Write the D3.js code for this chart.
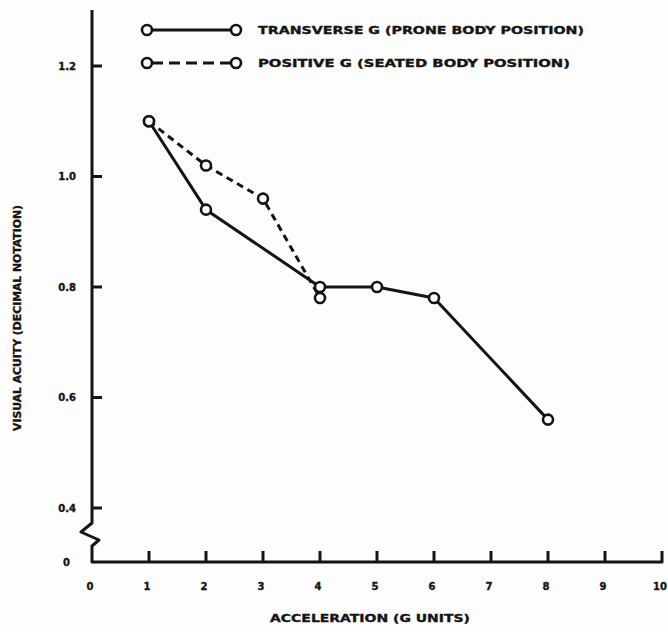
<!DOCTYPE html>
<html>
<head>
<meta charset="utf-8">
<script src="https://cdn.jsdelivr.net/npm/d3@7/dist/d3.min.js"></script>
<style>
  html, body { margin: 0; padding: 0; background: #fdfdfd; }
  svg { display: block; }
  text { font-family: "DejaVu Sans", "Liberation Sans", sans-serif; font-weight: bold; fill: #141414;
         stroke: #141414; stroke-width: 0.35px; }
</style>
</head>
<body>
<script>
// Visual acuity vs acceleration, two body positions
const transverseG = [1, 2, 4, 5, 6, 8];
const transverseAcuity = [1.10, 0.94, 0.80, 0.80, 0.78, 0.56];
const positiveG = [1, 2, 3, 4];
const positiveAcuity = [1.10, 1.02, 0.96, 0.78];
const xTicks = [0, 1, 2, 3, 4, 5, 6, 7, 8, 9, 10];
const yTicks = [0.4, 0.6, 0.8, 1.0, 1.2];
const seriesNames = ["TRANSVERSE G (PRONE BODY POSITION)", "POSITIVE G (SEATED BODY POSITION)"];

const W = 668, H = 632;
const ink = "#141414";
const svg = d3.select("body").append("svg").attr("width", W).attr("height", H);

const x = d3.scaleLinear().domain([0, 10]).range([92, 662]);
const y = d3.scaleLinear().domain([0.4, 1.2]).range([508, 66]);
const baseY = 562;   // zero line, below the axis break
const axisX = x(0);

// Y axis with a break between 0 and 0.4, then the x baseline
const breakPath = d3.path();
breakPath.moveTo(axisX, 10);
breakPath.lineTo(axisX, 523);
breakPath.lineTo(axisX - 11, 532);
breakPath.lineTo(axisX + 7, 540);
breakPath.lineTo(axisX, 546);
breakPath.lineTo(axisX, baseY);
breakPath.lineTo(x(10), baseY);
breakPath.lineTo(x(10), baseY - 11);
svg.append("path").attr("d", breakPath.toString())
  .attr("fill", "none").attr("stroke", ink).attr("stroke-width", 3)
  .attr("stroke-linejoin", "round");

// Y ticks (inward) and labels
const yAxis = svg.append("g");
yAxis.selectAll("line").data(yTicks).join("line")
  .attr("x1", axisX).attr("x2", axisX + 10)
  .attr("y1", d => y(d)).attr("y2", d => y(d))
  .attr("stroke", ink).attr("stroke-width", 3);
yAxis.selectAll("text").data(yTicks).join("text")
  .attr("x", 76).attr("y", d => y(d)).attr("dy", "0.36em")
  .attr("text-anchor", "end").attr("font-size", 10)
  .text(d => d3.format(".1f")(d));
svg.append("text").attr("x", 70).attr("y", baseY).attr("dy", "0.36em")
  .attr("text-anchor", "end").attr("font-size", 10).text("0");

// X ticks (inward) and labels
const xAxis = svg.append("g");
xAxis.selectAll("line").data(xTicks.slice(1, 10)).join("line")
  .attr("x1", d => x(d)).attr("x2", d => x(d))
  .attr("y1", baseY).attr("y2", baseY - 11)
  .attr("stroke", ink).attr("stroke-width", 3);
xAxis.selectAll("text").data(xTicks).join("text")
  .attr("x", d => x(d) - 2).attr("y", 590)
  .attr("text-anchor", "middle").attr("font-size", 10)
  .text(d => d);

// Axis titles
svg.append("text").attr("x", 370).attr("y", 622)
  .attr("text-anchor", "middle").attr("font-size", 11)
  .attr("textLength", 200).attr("lengthAdjust", "spacingAndGlyphs")
  .text("ACCELERATION (G UNITS)");
svg.append("text")
  .attr("transform", "translate(21,318) rotate(-90)")
  .attr("text-anchor", "middle").attr("font-size", 10)
  .attr("textLength", 226).attr("lengthAdjust", "spacingAndGlyphs")
  .text("VISUAL ACUITY (DECIMAL NOTATION)");

// Series lines
const line = d3.line().x(d => x(d[0])).y(d => y(d[1]));
const transPts = transverseG.map((g, i) => [g, transverseAcuity[i]]);
const posPts = positiveG.map((g, i) => [g, positiveAcuity[i]]);

svg.append("path").datum(posPts).attr("d", line)
  .attr("fill", "none").attr("stroke", ink).attr("stroke-width", 3)
  .attr("stroke-dasharray", "7,5");
svg.append("path").datum(transPts).attr("d", line)
  .attr("fill", "none").attr("stroke", ink).attr("stroke-width", 3)
  .attr("stroke-linejoin", "round");

// Open circle markers
function markers(pts) {
  svg.append("g").selectAll("circle").data(pts).join("circle")
    .attr("cx", d => x(d[0])).attr("cy", d => y(d[1])).attr("r", 5)
    .attr("fill", "#fdfdfd").attr("stroke", ink).attr("stroke-width", 2.6);
}
markers(posPts);
markers(transPts);

// Legend
const legend = svg.append("g");
const legendRows = [
  { name: seriesNames[0], dash: null, y: 30, len: 326 },
  { name: seriesNames[1], dash: "11,6", y: 63, len: 312 }
];
legendRows.forEach(r => {
  legend.append("line").attr("x1", 152).attr("x2", 231).attr("y1", r.y).attr("y2", r.y)
    .attr("stroke", ink).attr("stroke-width", 3)
    .attr("stroke-dasharray", r.dash);
  [147, 236].forEach(cx => legend.append("circle").attr("cx", cx).attr("cy", r.y).attr("r", 5)
    .attr("fill", "#fdfdfd").attr("stroke", ink).attr("stroke-width", 2.6));
  legend.append("text").attr("x", 258).attr("y", r.y).attr("dy", "0.36em")
    .attr("font-size", 10.5)
    .attr("textLength", r.len).attr("lengthAdjust", "spacingAndGlyphs")
    .text(r.name);
});
</script>
</body>
</html>
